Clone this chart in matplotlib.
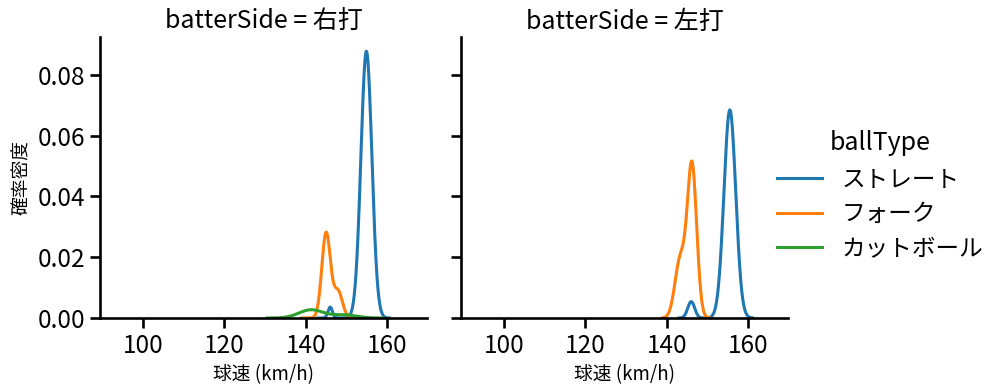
import numpy as np
import matplotlib
matplotlib.use("Agg")
import matplotlib.pyplot as plt

plt.rcParams['font.family'] = ['Noto Sans CJK JP', 'DejaVu Sans']

# Facets and hue categories
batter_sides = ["右打", "左打"]
ball_types = ["ストレート", "フォーク", "カットボール"]
colors = ["#1f77b4", "#ff7f0e", "#2ca02c"]

# KDE shape: component centers (km/h), peak heights (density), widths (km/h)
# plus visible support range of each curve
# 右打
r_straight_c = [154.9, 146.0]
r_straight_h = [0.0878, 0.0036]
r_straight_w = [1.35, 0.55]
r_straight_rng = [143.0, 160.5]

r_fork_c = [145.0, 147.9]
r_fork_h = [0.0280, 0.0088]
r_fork_w = [1.05, 1.1]
r_fork_rng = [139.0, 152.0]

r_cut_c = [141.3, 149.5]
r_cut_h = [0.0027, 0.0010]
r_cut_w = [3.0, 3.0]
r_cut_rng = [130.5, 159.0]

# 左打
l_straight_c = [155.5, 146.0]
l_straight_h = [0.0685, 0.0054]
l_straight_w = [1.45, 0.85]
l_straight_rng = [143.0, 161.0]

l_fork_c = [146.2, 143.3]
l_fork_h = [0.0500, 0.0190]
l_fork_w = [1.15, 1.3]
l_fork_rng = [139.0, 150.5]

facet_data = {
    "右打": [(r_straight_c, r_straight_h, r_straight_w, r_straight_rng),
            (r_fork_c, r_fork_h, r_fork_w, r_fork_rng),
            (r_cut_c, r_cut_h, r_cut_w, r_cut_rng)],
    "左打": [(l_straight_c, l_straight_h, l_straight_w, l_straight_rng),
            (l_fork_c, l_fork_h, l_fork_w, l_fork_rng),
            None],
}

xticks = [100, 120, 140, 160]
yticks = [0.00, 0.02, 0.04, 0.06, 0.08]

W, H = 997, 391
fig = plt.figure(figsize=(W / 100, H / 100), dpi=100)

panels = [(100, 427), (461, 788)]
top, bottom = 37, 318
handles = []
for i, side in enumerate(batter_sides):
    x0, x1 = panels[i]
    ax = fig.add_axes([x0 / W, 1 - bottom / H, (x1 - x0) / W, (bottom - top) / H])
    for j, comp in enumerate(facet_data[side]):
        if comp is None:
            continue
        c, h, w, rng = comp
        xs = np.linspace(rng[0], rng[1], 400)
        ys = np.zeros_like(xs)
        for cc, hh, ww in zip(c, h, w):
            ys += hh * np.exp(-0.5 * ((xs - cc) / ww) ** 2)
        ln, = ax.plot(xs, ys, color=colors[j], lw=2.2, label=ball_types[j])
        if i == 0:
            handles.append(ln)
    ax.set_xlim(89.4, 169.8)
    ax.set_ylim(0, 0.0925)
    ax.set_xticks(xticks)
    ax.set_yticks(yticks)
    ax.spines['top'].set_visible(False)
    ax.spines['right'].set_visible(False)
    for s in ['left', 'bottom']:
        ax.spines[s].set_linewidth(1.9)
    ax.tick_params(width=1.9, length=7, labelsize=17.5)
    ax.set_title(f"batterSide = {side}", fontsize=18)
    ax.set_xlabel("球速 (km/h)", fontsize=13.5)
    if i == 0:
        ax.set_ylabel("確率密度", fontsize=13.5)
        ax.set_yticklabels([f"{v:.2f}" for v in yticks])
    else:
        ax.set_yticklabels([])

leg = fig.legend(handles=handles, labels=ball_types, title="ballType",
                 loc="center left", bbox_to_anchor=(768 / W, 0.5),
                 frameon=False, fontsize=17, title_fontsize=18,
                 handlelength=1.9, borderaxespad=0)

fig.savefig("out.png", dpi=100)
